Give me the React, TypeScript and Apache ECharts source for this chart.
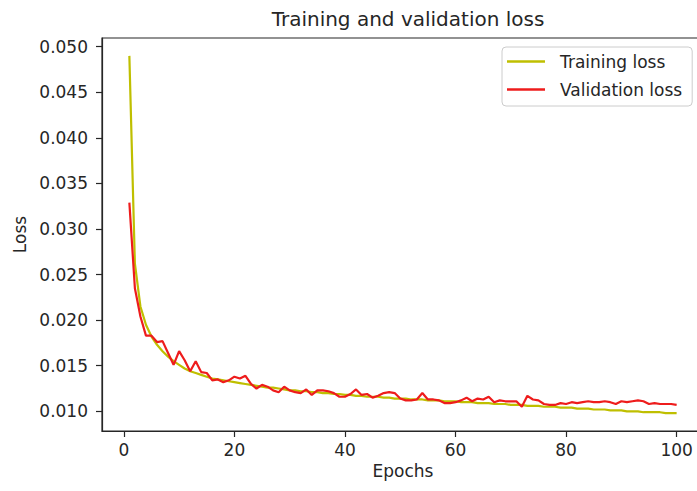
import React, { useEffect, useRef } from "react";
import * as echarts from "echarts";

const title = "Training and validation loss";
const xName = "Epochs";
const yName = "Loss";
const seriesNames = ["Training loss", "Validation loss"];

const epochs: number[] = [
  1, 2, 3, 4, 5, 6, 7, 8, 9, 10, 11, 12, 13, 14, 15, 16, 17, 18, 19, 20,
  21, 22, 23, 24, 25, 26, 27, 28, 29, 30, 31, 32, 33, 34, 35, 36, 37, 38, 39, 40,
  41, 42, 43, 44, 45, 46, 47, 48, 49, 50, 51, 52, 53, 54, 55, 56, 57, 58, 59, 60,
  61, 62, 63, 64, 65, 66, 67, 68, 69, 70, 71, 72, 73, 74, 75, 76, 77, 78, 79, 80,
  81, 82, 83, 84, 85, 86, 87, 88, 89, 90, 91, 92, 93, 94, 95, 96, 97, 98, 99, 100,
];

const trainingLoss: number[] = [
  0.049, 0.0262, 0.0215, 0.0195, 0.0182, 0.0173, 0.0166, 0.016, 0.0155, 0.0151,
  0.0147, 0.0144, 0.0142, 0.014, 0.0138, 0.0136, 0.0135, 0.0134, 0.0133, 0.0132,
  0.0131, 0.013, 0.0129, 0.0128, 0.0127, 0.0126, 0.0126, 0.0125, 0.0124, 0.0123,
  0.0123, 0.0122, 0.0122, 0.0121, 0.0121, 0.012, 0.012, 0.0119, 0.0119, 0.0118,
  0.0118, 0.0117, 0.0117, 0.0116, 0.0116, 0.0116, 0.0115, 0.0115, 0.0114, 0.0114,
  0.0114, 0.0113, 0.0113, 0.0113, 0.0112, 0.0112, 0.0112, 0.0111, 0.0111, 0.0111,
  0.011, 0.011, 0.011, 0.0109, 0.0109, 0.0109, 0.0108, 0.0108, 0.0108, 0.0107,
  0.0107, 0.0107, 0.0106, 0.0106, 0.0106, 0.0105, 0.0105, 0.0105, 0.0104, 0.0104,
  0.0104, 0.0103, 0.0103, 0.0103, 0.0102, 0.0102, 0.0102, 0.0101, 0.0101, 0.0101,
  0.01, 0.01, 0.01, 0.0099, 0.0099, 0.0099, 0.0099, 0.0098, 0.0098, 0.0098,
];

const validationLoss: number[] = [
  0.0329, 0.0235, 0.0204, 0.0183, 0.0183, 0.0176, 0.0177, 0.0164, 0.0151, 0.0166,
  0.0156, 0.0144, 0.0155, 0.0143, 0.0142, 0.0134, 0.0135, 0.0132, 0.0134, 0.0138,
  0.0136, 0.0139, 0.013, 0.0125, 0.0129, 0.0127, 0.0123, 0.0121, 0.0127, 0.0123,
  0.0121, 0.012, 0.0124, 0.0118, 0.0123, 0.0123, 0.0122, 0.012, 0.0116, 0.0116,
  0.0119, 0.0124, 0.0118, 0.0119, 0.0115, 0.0117, 0.012, 0.0121, 0.012, 0.0114,
  0.0112, 0.0112, 0.0113, 0.012, 0.0113, 0.0113, 0.0112, 0.0109, 0.0109, 0.011,
  0.0112, 0.0115, 0.0111, 0.0114, 0.0113, 0.0116, 0.011, 0.0112, 0.0111, 0.0111,
  0.0111, 0.0105, 0.0117, 0.0113, 0.0112, 0.0108, 0.0107, 0.0107, 0.0109, 0.0108,
  0.011, 0.0109, 0.011, 0.0111, 0.011, 0.011, 0.0111, 0.011, 0.0108, 0.0111,
  0.011, 0.0111, 0.0112, 0.0111, 0.0108, 0.0109, 0.0108, 0.0108, 0.0108, 0.0107,
];

const xTicks: number[] = [0, 20, 40, 60, 80, 100];
const yTicks: number[] = [0.01, 0.015, 0.02, 0.025, 0.03, 0.035, 0.04, 0.045, 0.05];

const FONT = "DejaVu Sans";
const TEXT = "#262626";

export default function App() {
  const ref = useRef<HTMLDivElement>(null);

  useEffect(() => {
    if (!ref.current) return;
    const chart = echarts.init(ref.current, null, { renderer: "svg" });
    const toPairs = (ys: number[]) => epochs.map((e, i) => [e, ys[i]]);
    const option: any = {
      animation: false,
      backgroundColor: "#ffffff",
      textStyle: { fontFamily: FONT },
      title: {
        text: title,
        left: 403,
        top: 4,
        textAlign: "center",
        textStyle: { fontFamily: FONT, fontSize: 20, fontWeight: "normal", color: TEXT },
      },
      legend: {
        left: 502,
        top: 47,
        orient: "vertical",
        data: seriesNames,
        icon: "rect",
        itemWidth: 38,
        itemHeight: 2.5,
        itemGap: 11,
        padding: [6, 10, 8, 5],
        borderColor: "#cccccc",
        borderWidth: 1,
        borderRadius: 4,
        backgroundColor: "rgba(255,255,255,0.8)",
        textStyle: { fontFamily: FONT, fontSize: 17, color: TEXT, padding: [0, 0, 0, 10] },
      },
      grid: {
        left: 102,
        top: 38,
        width: 602,
        height: 393,
        show: true,
        borderColor: "#262626",
        borderWidth: 1.2,
        backgroundColor: "transparent",
        outerBoundsMode: "none",
        containLabel: false,
      },
      xAxis: {
        type: "value",
        min: -3.95,
        max: 104.95,
        name: xName,
        nameLocation: "middle",
        nameGap: 28,
        nameTextStyle: { fontFamily: FONT, fontSize: 17, color: TEXT },
        axisLine: { show: true, onZero: false, lineStyle: { color: "#262626", width: 1.2 } },
        axisTick: { show: true, length: 6, customValues: xTicks, lineStyle: { color: "#262626", width: 1.2 } },
        axisLabel: {
          customValues: xTicks,
          margin: 10,
          fontFamily: FONT,
          fontSize: 17,
          color: TEXT,
          formatter: (v: number) => String(v),
        },
        splitLine: { show: false },
      },
      yAxis: {
        type: "value",
        min: 0.00784,
        max: 0.05096,
        name: yName,
        nameLocation: "middle",
        nameGap: 74,
        nameRotate: 90,
        nameTextStyle: { fontFamily: FONT, fontSize: 17, color: TEXT },
        axisLine: { show: true, onZero: false, lineStyle: { color: "#262626", width: 1.2 } },
        axisTick: { show: true, length: 6, customValues: yTicks, lineStyle: { color: "#262626", width: 1.2 } },
        axisLabel: {
          customValues: yTicks,
          margin: 14,
          fontFamily: FONT,
          fontSize: 17,
          color: TEXT,
          formatter: (v: number) => v.toFixed(3),
        },
        splitLine: { show: false },
      },
      series: [
        {
          name: seriesNames[0],
          type: "line",
          data: toPairs(trainingLoss),
          showSymbol: false,
          symbol: "none",
          lineStyle: { color: "#bfbf00", width: 2.2 },
          itemStyle: { color: "#bfbf00" },
        },
        {
          name: seriesNames[1],
          type: "line",
          data: toPairs(validationLoss),
          showSymbol: false,
          symbol: "none",
          lineStyle: { color: "#ee1c1c", width: 2.2 },
          itemStyle: { color: "#ee1c1c" },
        },
      ],
    };
    chart.setOption(option);
    return () => chart.dispose();
  }, []);

  return (
    <div
      ref={ref}
      style={{ position: "absolute", left: 0, top: 0, width: 697, height: 491 }}
    />
  );
}
